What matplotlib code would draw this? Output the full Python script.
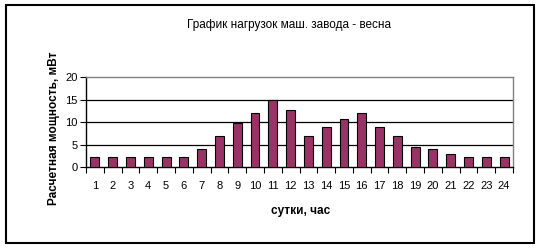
import matplotlib
matplotlib.use("Agg")
import matplotlib.pyplot as plt
from matplotlib.patches import Rectangle
import numpy as np

hours = list(range(1, 25))
power = [2.3, 2.3, 2.3, 2.3, 2.3, 2.3, 3.9, 6.8, 9.8, 12.0, 15.0, 12.7,
         6.8, 9.0, 10.6, 12.0, 9.0, 6.8, 4.5, 3.9, 3.0, 2.3, 2.3, 2.3]
yticks = [0, 5, 10, 15, 20]

plt.rcParams['font.family'] = ['Liberation Sans', 'DejaVu Sans']

fig = plt.figure(figsize=(5.4, 2.49), dpi=100)
fig.patches.append(Rectangle((5.5/540, 1 - 243/249), (534 - 5.5)/540, (243 - 5.5)/249,
                             transform=fig.transFigure, fill=False, edgecolor='black',
                             linewidth=1.5))

ax = fig.add_axes([86/540, 1 - 167/249, (513 - 86)/540, (167 - 77)/249])
ax.bar(hours, power, width=0.5, color='#993366', edgecolor='black', linewidth=0.8, zorder=3)
ax.set_xlim(0.5, 24.5)
ax.set_ylim(0, 20)
ax.set_yticks(yticks)
ax.set_yticklabels([str(v) for v in yticks], fontsize=8)
ax.set_xticks(hours)
ax.set_xticklabels([str(h) for h in hours], fontsize=8)
ax.tick_params(axis='x', length=0, pad=10)
ax.set_xticks(np.arange(0.5, 25.0, 1.0), minor=True)
ax.tick_params(axis='x', which='minor', length=4, width=0.8, direction='out')
ax.tick_params(axis='y', length=4, width=0.8, direction='out', pad=2)
for v in yticks[1:-1]:
    ax.axhline(v, color='black', linewidth=0.9, zorder=1)
for s in ['top', 'right']:
    ax.spines[s].set_color('#808080')
    ax.spines[s].set_linewidth(1.0)
for s in ['left', 'bottom']:
    ax.spines[s].set_color('black')
    ax.spines[s].set_linewidth(1.0)

fig.text(289/540, 1 - 25/249, 'График нагрузок маш. завода - весна', ha='center', va='center',
         fontsize=8.5)
fig.text(301/540, 1 - 211/249, 'сутки, час', ha='center', va='center', fontsize=8.5,
         fontweight='bold')
fig.text(54/540, 1 - 128/249, 'Расчетная мощность, мВт', ha='center', va='center',
         fontsize=8.5, fontweight='bold', rotation=90)

fig.savefig('out.png', dpi=100)
